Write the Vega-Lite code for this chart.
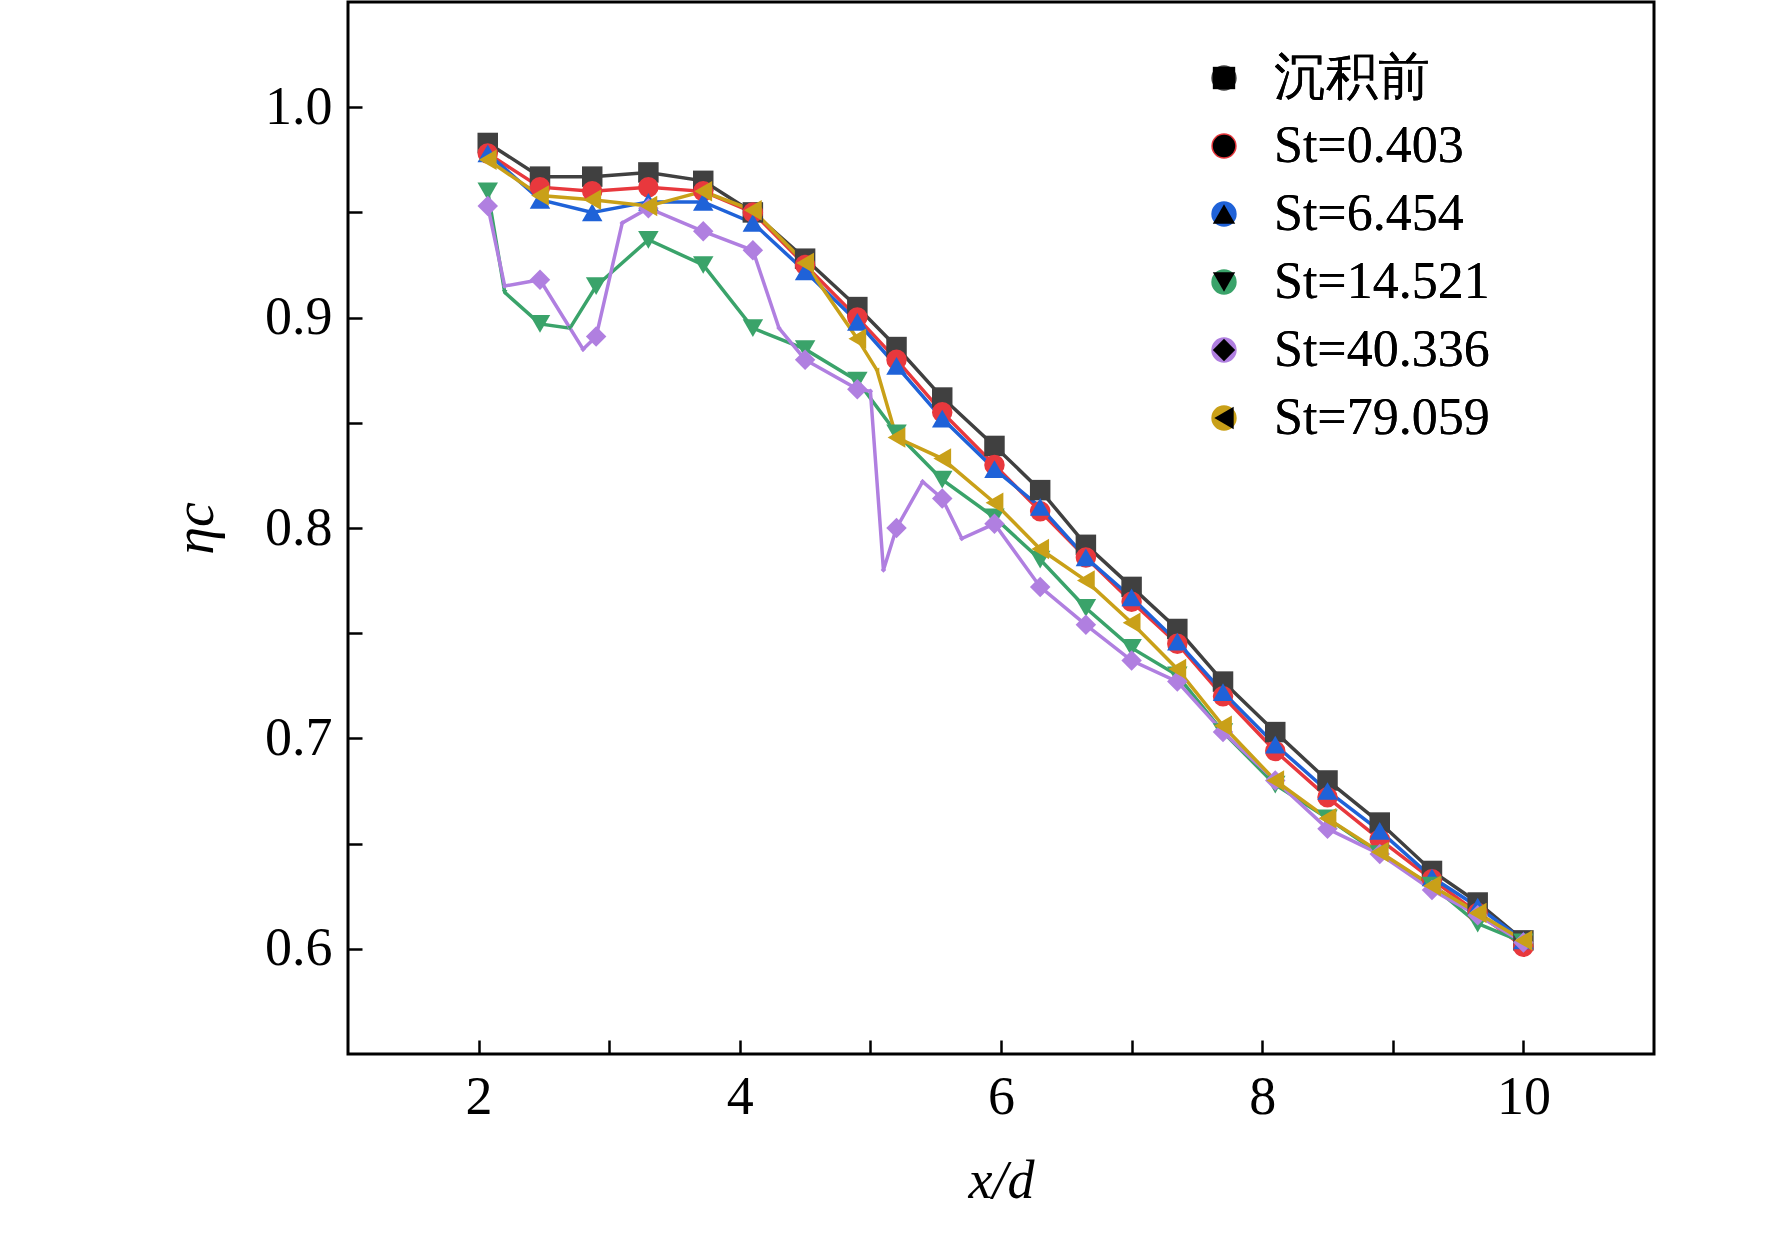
{
"$schema":"https://vega.github.io/schema/vega-lite/v6.json",
"autosize":{"type":"none"},
"padding":{"left":348,"top":2,"right":118,"bottom":184},
"width":1306,"height":1052,
"background":"white",
"config":{"view":{"stroke":"black","strokeWidth":3},"font":"Liberation Serif","axis":{"labelFont":"Liberation Serif","titleFont":"Liberation Serif"},"legend":{"labelFont":"Liberation Serif"}},
"data":{"values":[
{"s":"沉积前","x":2.07,"y":0.983,"m":1},{"s":"沉积前","x":2.47,"y":0.967,"m":1},{"s":"沉积前","x":2.87,"y":0.967,"m":1},{"s":"沉积前","x":3.3,"y":0.969,"m":1},{"s":"沉积前","x":3.72,"y":0.965,"m":1},{"s":"沉积前","x":4.1,"y":0.95,"m":1},{"s":"沉积前","x":4.5,"y":0.928,"m":1},{"s":"沉积前","x":4.9,"y":0.905,"m":1},{"s":"沉积前","x":5.2,"y":0.886,"m":1},{"s":"沉积前","x":5.55,"y":0.862,"m":1},{"s":"沉积前","x":5.95,"y":0.839,"m":1},{"s":"沉积前","x":6.3,"y":0.818,"m":1},{"s":"沉积前","x":6.65,"y":0.792,"m":1},{"s":"沉积前","x":7.0,"y":0.772,"m":1},{"s":"沉积前","x":7.35,"y":0.752,"m":1},{"s":"沉积前","x":7.7,"y":0.727,"m":1},{"s":"沉积前","x":8.1,"y":0.703,"m":1},{"s":"沉积前","x":8.5,"y":0.68,"m":1},{"s":"沉积前","x":8.9,"y":0.66,"m":1},{"s":"沉积前","x":9.3,"y":0.637,"m":1},{"s":"沉积前","x":9.65,"y":0.622,"m":1},{"s":"沉积前","x":10.0,"y":0.604,"m":1},
{"s":"St=0.403","x":2.07,"y":0.978,"m":1},{"s":"St=0.403","x":2.47,"y":0.962,"m":1},{"s":"St=0.403","x":2.87,"y":0.96,"m":1},{"s":"St=0.403","x":3.3,"y":0.962,"m":1},{"s":"St=0.403","x":3.72,"y":0.96,"m":1},{"s":"St=0.403","x":4.1,"y":0.95,"m":1},{"s":"St=0.403","x":4.5,"y":0.925,"m":1},{"s":"St=0.403","x":4.9,"y":0.9,"m":1},{"s":"St=0.403","x":5.2,"y":0.88,"m":1},{"s":"St=0.403","x":5.55,"y":0.855,"m":1},{"s":"St=0.403","x":5.95,"y":0.83,"m":1},{"s":"St=0.403","x":6.3,"y":0.808,"m":1},{"s":"St=0.403","x":6.65,"y":0.786,"m":1},{"s":"St=0.403","x":7.0,"y":0.765,"m":1},{"s":"St=0.403","x":7.35,"y":0.745,"m":1},{"s":"St=0.403","x":7.7,"y":0.72,"m":1},{"s":"St=0.403","x":8.1,"y":0.694,"m":1},{"s":"St=0.403","x":8.5,"y":0.672,"m":1},{"s":"St=0.403","x":8.9,"y":0.652,"m":1},{"s":"St=0.403","x":9.3,"y":0.633,"m":1},{"s":"St=0.403","x":9.65,"y":0.617,"m":1},{"s":"St=0.403","x":10.0,"y":0.601,"m":1},
{"s":"St=6.454","x":2.07,"y":0.978,"m":1},{"s":"St=6.454","x":2.47,"y":0.956,"m":1},{"s":"St=6.454","x":2.87,"y":0.95,"m":1},{"s":"St=6.454","x":3.3,"y":0.955,"m":1},{"s":"St=6.454","x":3.72,"y":0.955,"m":1},{"s":"St=6.454","x":4.1,"y":0.945,"m":1},{"s":"St=6.454","x":4.5,"y":0.922,"m":1},{"s":"St=6.454","x":4.9,"y":0.898,"m":1},{"s":"St=6.454","x":5.2,"y":0.877,"m":1},{"s":"St=6.454","x":5.55,"y":0.852,"m":1},{"s":"St=6.454","x":5.95,"y":0.828,"m":1},{"s":"St=6.454","x":6.3,"y":0.81,"m":1},{"s":"St=6.454","x":6.65,"y":0.786,"m":1},{"s":"St=6.454","x":7.0,"y":0.767,"m":1},{"s":"St=6.454","x":7.35,"y":0.746,"m":1},{"s":"St=6.454","x":7.7,"y":0.722,"m":1},{"s":"St=6.454","x":8.1,"y":0.697,"m":1},{"s":"St=6.454","x":8.5,"y":0.675,"m":1},{"s":"St=6.454","x":8.9,"y":0.656,"m":1},{"s":"St=6.454","x":9.3,"y":0.634,"m":1},{"s":"St=6.454","x":9.65,"y":0.62,"m":1},{"s":"St=6.454","x":10.0,"y":0.604,"m":1},
{"s":"St=14.521","x":2.07,"y":0.96,"m":1},{"s":"St=14.521","x":2.2,"y":0.912,"m":0},{"s":"St=14.521","x":2.47,"y":0.897,"m":1},{"s":"St=14.521","x":2.7,"y":0.895,"m":0},{"s":"St=14.521","x":2.9,"y":0.915,"m":1},{"s":"St=14.521","x":3.3,"y":0.937,"m":1},{"s":"St=14.521","x":3.72,"y":0.925,"m":1},{"s":"St=14.521","x":4.1,"y":0.895,"m":1},{"s":"St=14.521","x":4.5,"y":0.885,"m":1},{"s":"St=14.521","x":4.9,"y":0.87,"m":1},{"s":"St=14.521","x":5.2,"y":0.845,"m":1},{"s":"St=14.521","x":5.55,"y":0.823,"m":1},{"s":"St=14.521","x":5.95,"y":0.805,"m":1},{"s":"St=14.521","x":6.3,"y":0.785,"m":1},{"s":"St=14.521","x":6.65,"y":0.762,"m":1},{"s":"St=14.521","x":7.0,"y":0.743,"m":1},{"s":"St=14.521","x":7.35,"y":0.73,"m":1},{"s":"St=14.521","x":7.7,"y":0.703,"m":1},{"s":"St=14.521","x":8.1,"y":0.678,"m":1},{"s":"St=14.521","x":8.5,"y":0.662,"m":1},{"s":"St=14.521","x":8.9,"y":0.645,"m":1},{"s":"St=14.521","x":9.3,"y":0.63,"m":1},{"s":"St=14.521","x":9.65,"y":0.612,"m":1},{"s":"St=14.521","x":10.0,"y":0.603,"m":1},
{"s":"St=40.336","x":2.07,"y":0.953,"m":1},{"s":"St=40.336","x":2.2,"y":0.915,"m":0},{"s":"St=40.336","x":2.47,"y":0.918,"m":1},{"s":"St=40.336","x":2.8,"y":0.885,"m":0},{"s":"St=40.336","x":2.9,"y":0.891,"m":1},{"s":"St=40.336","x":3.1,"y":0.945,"m":0},{"s":"St=40.336","x":3.3,"y":0.952,"m":1},{"s":"St=40.336","x":3.72,"y":0.941,"m":1},{"s":"St=40.336","x":4.1,"y":0.932,"m":1},{"s":"St=40.336","x":4.3,"y":0.895,"m":0},{"s":"St=40.336","x":4.5,"y":0.88,"m":1},{"s":"St=40.336","x":4.9,"y":0.866,"m":1},{"s":"St=40.336","x":5.0,"y":0.865,"m":0},{"s":"St=40.336","x":5.1,"y":0.78,"m":0},{"s":"St=40.336","x":5.2,"y":0.8,"m":1},{"s":"St=40.336","x":5.4,"y":0.822,"m":0},{"s":"St=40.336","x":5.55,"y":0.814,"m":1},{"s":"St=40.336","x":5.7,"y":0.795,"m":0},{"s":"St=40.336","x":5.95,"y":0.802,"m":1},{"s":"St=40.336","x":6.3,"y":0.772,"m":1},{"s":"St=40.336","x":6.65,"y":0.754,"m":1},{"s":"St=40.336","x":7.0,"y":0.737,"m":1},{"s":"St=40.336","x":7.35,"y":0.727,"m":1},{"s":"St=40.336","x":7.7,"y":0.703,"m":1},{"s":"St=40.336","x":8.1,"y":0.68,"m":1},{"s":"St=40.336","x":8.5,"y":0.657,"m":1},{"s":"St=40.336","x":8.9,"y":0.645,"m":1},{"s":"St=40.336","x":9.3,"y":0.628,"m":1},{"s":"St=40.336","x":9.65,"y":0.616,"m":1},{"s":"St=40.336","x":10.0,"y":0.603,"m":1},
{"s":"St=79.059","x":2.07,"y":0.975,"m":1},{"s":"St=79.059","x":2.47,"y":0.958,"m":1},{"s":"St=79.059","x":2.87,"y":0.956,"m":1},{"s":"St=79.059","x":3.3,"y":0.953,"m":1},{"s":"St=79.059","x":3.72,"y":0.96,"m":1},{"s":"St=79.059","x":4.1,"y":0.951,"m":1},{"s":"St=79.059","x":4.5,"y":0.926,"m":1},{"s":"St=79.059","x":4.9,"y":0.89,"m":1},{"s":"St=79.059","x":5.05,"y":0.875,"m":0},{"s":"St=79.059","x":5.2,"y":0.843,"m":1},{"s":"St=79.059","x":5.55,"y":0.833,"m":1},{"s":"St=79.059","x":5.95,"y":0.812,"m":1},{"s":"St=79.059","x":6.3,"y":0.79,"m":1},{"s":"St=79.059","x":6.65,"y":0.775,"m":1},{"s":"St=79.059","x":7.0,"y":0.755,"m":1},{"s":"St=79.059","x":7.35,"y":0.733,"m":1},{"s":"St=79.059","x":7.7,"y":0.706,"m":1},{"s":"St=79.059","x":8.1,"y":0.68,"m":1},{"s":"St=79.059","x":8.5,"y":0.662,"m":1},{"s":"St=79.059","x":8.9,"y":0.646,"m":1},{"s":"St=79.059","x":9.3,"y":0.63,"m":1},{"s":"St=79.059","x":9.65,"y":0.617,"m":1},{"s":"St=79.059","x":10.0,"y":0.604,"m":1}
]},
"encoding":{
"x":{"field":"x","type":"quantitative","scale":{"domain":[1,11],"nice":false},
 "axis":{"values":[2,3,4,5,6,7,8,9,10],"labelExpr":"datum.value % 2 == 0 ? datum.label : ''","grid":false,"tickSize":-14,"tickWidth":2.5,"tickColor":"black","domain":false,"labelFontSize":54,"labelColor":"black","labelPadding":30,"title":"x/d","titleFontSize":54,"titleFontStyle":"italic","titleFontWeight":"normal","titleColor":"black","titlePadding":30}},
"y":{"field":"y","type":"quantitative","scale":{"domain":[0.55,1.05],"nice":false,"zero":false},
 "axis":{"values":[0.6,0.65,0.7,0.75,0.8,0.85,0.9,0.95,1.0],"labelExpr":"abs(datum.value*10 - round(datum.value*10)) < 0.01 ? format(datum.value,'.1f') : ''","grid":false,"tickSize":-14,"tickWidth":2.5,"tickColor":"black","domain":false,"labelFontSize":54,"labelColor":"black","labelPadding":30,"title":"ηc","titleFontSize":56,"titleFontStyle":"italic","titleFontWeight":"normal","titleColor":"black","titlePadding":40}},
"color":{"field":"s","type":"nominal","sort":["沉积前","St=0.403","St=6.454","St=14.521","St=40.336","St=79.059"],
 "scale":{"range":["#404040","#e8383d","#1f62d8","#3aa36a","#b07fe0","#c9a018"]},
 "legend":{"title":null,"orient":"none","legendX":850,"legendY":50,"labelFontSize":52,"labelColor":"black","labelLimit":400,"symbolSize":500,"rowPadding":16,"labelOffset":24,"symbolStrokeWidth":3}},
"shape":{"field":"s","type":"nominal","sort":["沉积前","St=0.403","St=6.454","St=14.521","St=40.336","St=79.059"],
 "scale":{"range":["square","circle","triangle-up","triangle-down","diamond","triangle-left"]},
 "legend":{"title":null,"orient":"none","legendX":850,"legendY":50,"labelFontSize":52,"labelColor":"black","labelLimit":400,"symbolSize":500,"rowPadding":16,"labelOffset":24,"symbolStrokeWidth":3}}
},
"layer":[
{"mark":{"type":"line","strokeWidth":3.5}},
{"transform":[{"filter":"datum.m == 1"}],"mark":{"type":"point","filled":true,"size":420,"opacity":1}}
]
}
